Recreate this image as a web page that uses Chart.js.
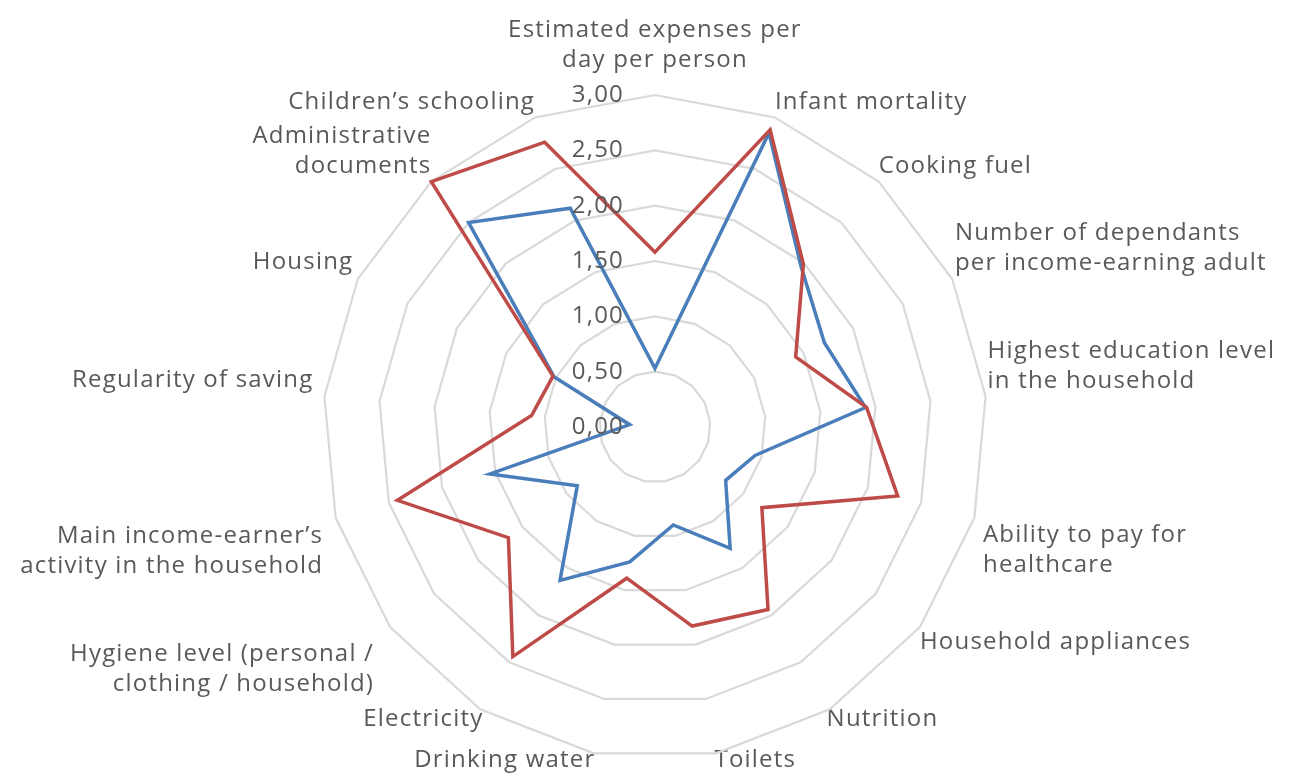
<!DOCTYPE html>
<html>
<head>
<meta charset="utf-8">
<script src="https://cdn.jsdelivr.net/npm/chart.js@4.4.0/dist/chart.umd.min.js"></script>
<style>
    html, body { margin: 0; padding: 0; background: #ffffff; overflow: hidden; }
    #chartBox { width: 1292px; height: 776px; overflow: hidden; }
    #povertyRadar { display: block; margin-top: -17px; }
</style>
</head>
<body>
<div id="chartBox"><canvas id="povertyRadar" width="1292" height="824"></canvas></div>
<script>
// Categories (clockwise from the top)
const categories = [
    ["Estimated expenses per", "day per person"],
    "Infant mortality",
    "Cooking fuel",
    ["Number of dependants", "per income-earning adult"],
    ["Highest education level", "in the household"],
    ["Ability to pay for", "healthcare"],
    "Household appliances",
    "Nutrition",
    "Toilets",
    "Drinking water",
    "Electricity",
    ["Hygiene level (personal /", "clothing / household)"],
    ["Main income-earner\u2019s", "activity in the household"],
    "Regularity of saving",
    "Housing",
    ["Administrative", "documents"],
    "Children\u2019s schooling"
];

// Series values
const redValues  = [1.58, 2.88, 1.99, 1.42, 1.92, 2.28, 1.21, 1.94, 1.83, 1.39, 2.44, 1.66, 2.42, 1.12, 1.03, 3.00, 2.76];
const blueValues = [0.53, 2.85, 1.96, 1.71, 1.91, 0.94, 0.80, 1.29, 0.90, 1.24, 1.63, 0.88, 1.55, 0.23, 1.02, 2.50, 2.12];

// Axis ticks
const tickValues = [0, 0.5, 1, 1.5, 2, 2.5, 3];
const tickLabels = ["0,00", "0,50", "1,00", "1,50", "2,00", "2,50", "3,00"];

const textColor = "#595959";
const fontFamily = "'Open Sans', 'Noto Sans', sans-serif";
const fontSize = 24;
const letterSpacing = "1.2px";

// distance of each category label from the outer ring (Excel does not keep it constant)
const labelPadding = [20, 0, 0, 3, 2, 9, 0, -6, -8, -8, -6, 20, 13, 11, 5, 0, 0];

// Calibri-like wide text: canvas letter spacing, set before measuring and drawing
const spacingPlugin = {
    id: "spacingPlugin",
    beforeUpdate(chart) { chart.ctx.letterSpacing = letterSpacing; },
    beforeDraw(chart) { chart.ctx.letterSpacing = letterSpacing; }
};

// draws the value labels to the left of the vertical axis, like Excel does
const tickLabelPlugin = {
    id: "tickLabelPlugin",
    afterDatasetsDraw(chart) {
        const scale = chart.scales.r;
        const ctx = chart.ctx;
        ctx.save();
        ctx.font = fontSize + "px " + fontFamily;
        ctx.fillStyle = textColor;
        ctx.textAlign = "right";
        ctx.textBaseline = "middle";
        scale.ticks.forEach(tick => {
            const y = scale.yCenter - scale.getDistanceFromCenterForValue(tick.value);
            ctx.fillText(tick.label, scale.xCenter - 31, y);
        });
        ctx.restore();
    }
};

const ctx = document.getElementById("povertyRadar").getContext("2d");
new Chart(ctx, {
    type: "radar",
    data: {
        labels: categories,
        datasets: [
            {
                label: "Series 2",
                data: redValues,
                borderColor: "#BE4B48",
                borderWidth: 3.5,
                pointRadius: 0,
                fill: false,
                tension: 0
            },
            {
                label: "Series 1",
                data: blueValues,
                borderColor: "#4A7EBB",
                borderWidth: 3.5,
                pointRadius: 0,
                fill: false,
                tension: 0
            }
        ]
    },
    options: {
        responsive: false,
        animation: false,
        layout: { padding: { left: 4, right: 0, top: 0, bottom: 0 } },
        plugins: {
            legend: { display: false },
            tooltip: { enabled: false }
        },
        elements: { line: { borderJoinStyle: "miter" } },
        scales: {
            r: {
                min: 0,
                max: 3,
                afterBuildTicks: scale => {
                    scale.ticks = tickValues.map(v => ({ value: v }));
                },
                ticks: {
                    display: false,
                    callback: (value, index) => tickLabels[index]
                },
                grid: { color: "#D9D9D9", lineWidth: 2.2, circular: false },
                angleLines: { display: false },
                pointLabels: {
                    color: textColor,
                    padding: c => labelPadding[c.index],
                    font: { family: fontFamily, size: fontSize, lineHeight: 1.25 }
                }
            }
        }
    },
    plugins: [spacingPlugin, tickLabelPlugin]
});
</script>
</body>
</html>
